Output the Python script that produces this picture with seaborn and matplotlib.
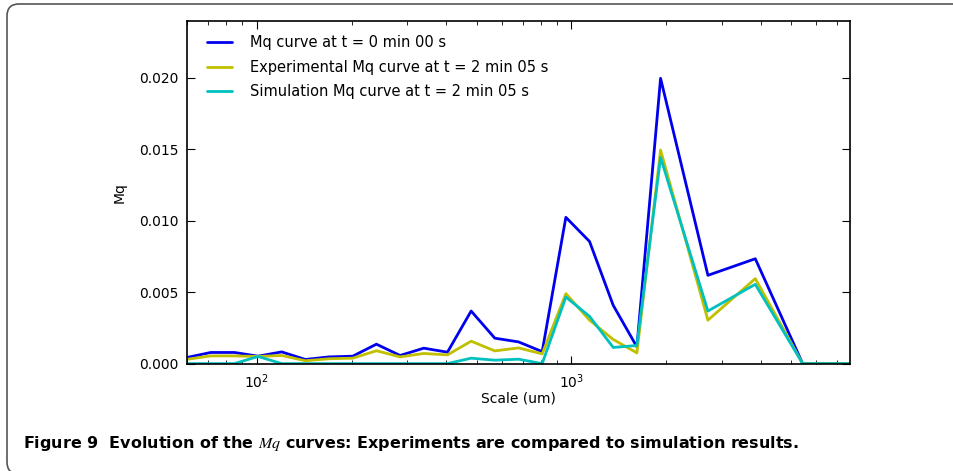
import numpy as np
import pandas as pd
import seaborn as sns
import matplotlib.pyplot as plt
from matplotlib.patches import FancyBboxPatch

# scale (um), one point every 2^(1/4)
scale = [60, 71.4, 84.9, 100.9, 120, 142.7, 169.7, 201.8, 240, 285.4, 339.4,
         403.6, 480, 570.8, 678.8, 807.3, 960, 1141.6, 1357.6, 1614.5, 1920,
         2715, 3840, 5431, 7680]

mq_t0 = [0.00043, 0.00078, 0.00078, 0.00052, 0.00082, 0.00029, 0.00047, 0.00052,
         0.00136, 0.00057, 0.00108, 0.00080, 0.00368, 0.00178, 0.00152, 0.00084,
         0.01024, 0.00855, 0.00408, 0.00117, 0.01997, 0.00618, 0.00734, 0.0, 0.0]

mq_exp = [0.00030, 0.00054, 0.00054, 0.00050, 0.00057, 0.00020, 0.00034, 0.00038,
          0.00090, 0.00047, 0.00071, 0.00061, 0.00157, 0.00089, 0.00110, 0.00068,
          0.00490, 0.00304, 0.00169, 0.00075, 0.01495, 0.00304, 0.00595, 0.0, 0.0]

mq_sim = [0.0, 0.0, 0.0, 0.00050, 0.0, 0.0, 0.0, 0.0,
          0.0, 0.0, 0.0, 0.0, 0.00038, 0.00024, 0.00031, 0.0,
          0.00466, 0.00331, 0.00113, 0.00127, 0.01443, 0.00368, 0.00555, 0.0, 0.0]

labels = ['Mq curve at t = 0 min 00 s',
          'Experimental Mq curve at t = 2 min 05 s',
          'Simulation Mq curve at t = 2 min 05 s']
colors = ['#0000ee', '#c0c000', '#00c0c0']

df = pd.concat([
    pd.DataFrame({'scale': scale, 'Mq': mq_t0, 'curve': labels[0]}),
    pd.DataFrame({'scale': scale, 'Mq': mq_exp, 'curve': labels[1]}),
    pd.DataFrame({'scale': scale, 'Mq': mq_sim, 'curve': labels[2]}),
])

sns.set_style('ticks')
plt.rcParams['font.family'] = ['DejaVu Sans']
plt.rcParams['mathtext.fontset'] = 'stix'
for k in ['text.color', 'axes.labelcolor', 'xtick.color', 'ytick.color', 'axes.edgecolor']:
    plt.rcParams[k] = 'black'

fig = plt.figure(figsize=(9.54, 4.71), dpi=100)
ax = fig.add_axes([0.196, 0.228, 0.695, 0.728])

sns.lineplot(data=df, x='scale', y='Mq', hue='curve', palette=dict(zip(labels, colors)),
             estimator=None, sort=False, linewidth=2, ax=ax)

ax.set_xscale('log')
ax.set_xlim(60, 7680)
ax.set_ylim(0, 0.024)
ax.set_yticks([0, 0.005, 0.010, 0.015, 0.020])
ax.set_yticklabels(['0.000', '0.005', '0.010', '0.015', '0.020'])
ax.set_xlabel('Scale (um)', fontsize=10, labelpad=1)
ax.set_ylabel('Mq', fontsize=10, labelpad=9)
ax.tick_params(which='both', direction='in', top=True, right=True, labelsize=10)
ax.tick_params(which='major', length=6, pad=6)
ax.tick_params(which='minor', length=3)
for s in ax.spines.values():
    s.set_linewidth(1.2)

h, l = ax.get_legend_handles_labels()
ax.legend(h, l, loc='upper left', bbox_to_anchor=(0.008, 1.0), frameon=False, fontsize=10.5,
          handlelength=1.7, handletextpad=1.25, labelspacing=0.65, borderaxespad=0.6)

# caption box (open on the right, like the page crop)
fig.patches.append(FancyBboxPatch((0.07, -0.03), 9.6, 4.70, boxstyle='round,pad=0,rounding_size=0.12',
                                  transform=fig.dpi_scale_trans, fill=False, edgecolor='#555555',
                                  linewidth=1.2, clip_on=False))
fig.text(23 / 954, 1 - 448 / 471,
         'Figure 9  Evolution of the $Mq$ curves: Experiments are compared to simulation results.',
         fontsize=11.5, fontweight='bold', family='DejaVu Sans', ha='left', va='baseline')

fig.savefig('out.png', dpi=100)
